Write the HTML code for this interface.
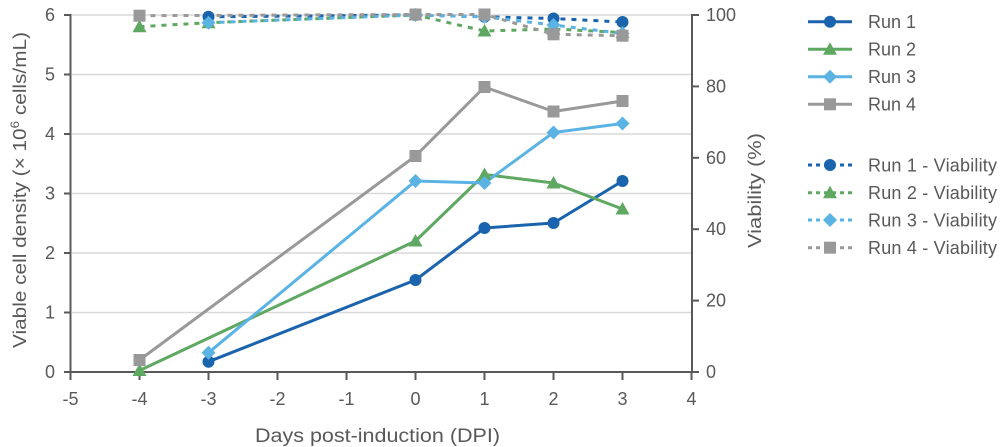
<!DOCTYPE html>
<html><head><meta charset="utf-8"><style>
html,body{margin:0;padding:0;background:#fff;}
svg{display:block;font-family:"Liberation Sans",sans-serif;}
</style></head><body>
<svg width="1000" height="447" viewBox="0 0 1000 447" xmlns="http://www.w3.org/2000/svg">
<defs>
<g id="mc"><circle cx="0" cy="0" r="6"/></g>
<g id="mt"><polygon points="0,-7 7,5.5 -7,5.5"/></g>
<g id="md"><polygon points="0,-7 7,0 0,7 -7,0"/></g>
<g id="ms"><rect x="-6" y="-6" width="12" height="12"/></g>
</defs>
<!-- gridlines -->
<g stroke="#d9d9d9" stroke-width="1.5">
<line x1="72" y1="15" x2="692" y2="15"/>
<line x1="72" y1="74.5" x2="692" y2="74.5"/>
<line x1="72" y1="134" x2="692" y2="134"/>
<line x1="72" y1="193.5" x2="692" y2="193.5"/>
<line x1="72" y1="253" x2="692" y2="253"/>
<line x1="72" y1="312.5" x2="692" y2="312.5"/>
</g>
<!-- axes -->
<g stroke="#595959" stroke-width="2">
<line x1="70.5" y1="14" x2="70.5" y2="373"/>
<line x1="692" y1="14" x2="692" y2="373"/>
<line x1="64" y1="372" x2="699" y2="372"/>
<line x1="64" y1="15" x2="71" y2="15"/>
<line x1="64" y1="74.5" x2="71" y2="74.5"/>
<line x1="64" y1="134" x2="71" y2="134"/>
<line x1="64" y1="193.5" x2="71" y2="193.5"/>
<line x1="64" y1="253" x2="71" y2="253"/>
<line x1="64" y1="312.5" x2="71" y2="312.5"/>
<line x1="692" y1="15" x2="699" y2="15"/>
<line x1="692" y1="86.4" x2="699" y2="86.4"/>
<line x1="692" y1="157.8" x2="699" y2="157.8"/>
<line x1="692" y1="229.2" x2="699" y2="229.2"/>
<line x1="692" y1="300.6" x2="699" y2="300.6"/>
<line x1="70.5" y1="372" x2="70.5" y2="380"/>
<line x1="139.5" y1="372" x2="139.5" y2="380"/>
<line x1="208.5" y1="372" x2="208.5" y2="380"/>
<line x1="277.5" y1="372" x2="277.5" y2="380"/>
<line x1="346.5" y1="372" x2="346.5" y2="380"/>
<line x1="415.5" y1="372" x2="415.5" y2="380"/>
<line x1="484.5" y1="372" x2="484.5" y2="380"/>
<line x1="553.5" y1="372" x2="553.5" y2="380"/>
<line x1="622.5" y1="372" x2="622.5" y2="380"/>
<line x1="691.5" y1="372" x2="691.5" y2="380"/>
</g>
<!-- tick labels -->
<g fill="#595959" font-size="18">
<g text-anchor="end">
<text x="55" y="21">6</text>
<text x="55" y="80.5">5</text>
<text x="55" y="140">4</text>
<text x="55" y="199.5">3</text>
<text x="55" y="259">2</text>
<text x="55" y="318.5">1</text>
<text x="55" y="378">0</text>
</g>
<g text-anchor="start">
<text x="706" y="21">100</text>
<text x="706" y="92.4">80</text>
<text x="706" y="163.8">60</text>
<text x="706" y="235.2">40</text>
<text x="706" y="306.6">20</text>
<text x="706" y="378">0</text>
</g>
<g text-anchor="middle">
<text x="70.5" y="405">-5</text>
<text x="139.5" y="405">-4</text>
<text x="208.5" y="405">-3</text>
<text x="277.5" y="405">-2</text>
<text x="346.5" y="405">-1</text>
<text x="415.5" y="405">0</text>
<text x="484.5" y="405">1</text>
<text x="553.5" y="405">2</text>
<text x="622.5" y="405">3</text>
<text x="691.5" y="405">4</text>
</g>
<text x="255" y="442" font-size="19" textLength="245" lengthAdjust="spacingAndGlyphs">Days post-induction (DPI)</text>
<text transform="translate(26,348) rotate(-90)" font-size="18.5" textLength="316" lengthAdjust="spacingAndGlyphs">Viable cell density (× 10<tspan font-size="12" dy="-7">6</tspan><tspan dy="7"> cells/mL)</tspan></text>
<text transform="translate(761,248) rotate(-90)" font-size="18.5" textLength="115" lengthAdjust="spacingAndGlyphs">Viability (%)</text>
</g>
<!-- viability series (dashed) -->
<g fill="none" stroke-width="3" stroke-dasharray="5 6">
<polyline stroke="#1a63ad" points="208.5,16.8 415.5,15 484.5,16.8 553.5,18.5 622.5,22"/>
<polyline stroke="#5ea862" points="139.5,26.7 208.5,22.7 415.5,15 484.5,31 553.5,29 622.5,32.5"/>
<polyline stroke="#5ab3e3" points="208.5,22.7 415.5,15 484.5,16.8 553.5,25 622.5,33.5"/>
<polyline stroke="#999999" points="139.5,15.7 415.5,14.5 484.5,14.5 553.5,34.3 622.5,35.7"/>
</g>
<g fill="#1a63ad"><use href="#mc" x="208.5" y="16.8"/><use href="#mc" x="415.5" y="15"/><use href="#mc" x="484.5" y="16.8"/><use href="#mc" x="553.5" y="18.5"/><use href="#mc" x="622.5" y="22"/></g>
<g fill="#5ea862"><use href="#mt" x="139.5" y="26.7"/><use href="#mt" x="208.5" y="22.7"/><use href="#mt" x="415.5" y="15"/><use href="#mt" x="484.5" y="31"/><use href="#mt" x="553.5" y="29"/><use href="#mt" x="622.5" y="32.5"/></g>
<g fill="#5ab3e3"><use href="#md" x="208.5" y="22.7"/><use href="#md" x="415.5" y="15"/><use href="#md" x="484.5" y="16.8"/><use href="#md" x="553.5" y="25"/><use href="#md" x="622.5" y="33.5"/></g>
<g fill="#999999"><use href="#ms" x="139.5" y="15.7"/><use href="#ms" x="415.5" y="14.5"/><use href="#ms" x="484.5" y="14.5"/><use href="#ms" x="553.5" y="34.3"/><use href="#ms" x="622.5" y="35.7"/></g>
<!-- VCD series (solid) -->
<g fill="none" stroke-width="3" stroke-linejoin="round">
<polyline stroke="#1a63ad" points="208.5,361.7 415.5,280 484.5,228 553.5,223 622.5,181"/>
<polyline stroke="#5ea862" points="139.5,370.5 415.5,241 484.5,174.5 553.5,183 622.5,209"/>
<polyline stroke="#5ab3e3" points="208.5,352.7 415.5,181 484.5,183 553.5,132.5 622.5,123.5"/>
<polyline stroke="#999999" points="139.5,360 415.5,156 484.5,87 553.5,111.5 622.5,101"/>
</g>
<g fill="#1a63ad"><use href="#mc" x="208.5" y="361.7"/><use href="#mc" x="415.5" y="280"/><use href="#mc" x="484.5" y="228"/><use href="#mc" x="553.5" y="223"/><use href="#mc" x="622.5" y="181"/></g>
<g fill="#5ea862"><use href="#mt" x="139.5" y="370.5"/><use href="#mt" x="415.5" y="241"/><use href="#mt" x="484.5" y="174.5"/><use href="#mt" x="553.5" y="183"/><use href="#mt" x="622.5" y="209"/></g>
<g fill="#5ab3e3"><use href="#md" x="208.5" y="352.7"/><use href="#md" x="415.5" y="181"/><use href="#md" x="484.5" y="183"/><use href="#md" x="553.5" y="132.5"/><use href="#md" x="622.5" y="123.5"/></g>
<g fill="#999999"><use href="#ms" x="139.5" y="360"/><use href="#ms" x="415.5" y="156"/><use href="#ms" x="484.5" y="87"/><use href="#ms" x="553.5" y="111.5"/><use href="#ms" x="622.5" y="101"/></g>
<!-- legend -->
<g stroke-width="3">
<line x1="808" y1="21.7" x2="852" y2="21.7" stroke="#1a63ad"/>
<line x1="808" y1="49.3" x2="852" y2="49.3" stroke="#5ea862"/>
<line x1="808" y1="76.7" x2="852" y2="76.7" stroke="#5ab3e3"/>
<line x1="808" y1="104.3" x2="852" y2="104.3" stroke="#999999"/>
<line x1="808" y1="165" x2="852" y2="165" stroke="#1a63ad" stroke-dasharray="4 4"/>
<line x1="808" y1="192.7" x2="852" y2="192.7" stroke="#5ea862" stroke-dasharray="4 4"/>
<line x1="808" y1="220" x2="852" y2="220" stroke="#5ab3e3" stroke-dasharray="4 4"/>
<line x1="808" y1="247.7" x2="852" y2="247.7" stroke="#999999" stroke-dasharray="4 4"/>
</g>
<use href="#mc" x="830" y="21.7" fill="#1a63ad"/>
<use href="#mt" x="830" y="49.3" fill="#5ea862"/>
<use href="#md" x="830" y="76.7" fill="#5ab3e3"/>
<use href="#ms" x="830" y="104.3" fill="#999999"/>
<use href="#mc" x="830" y="165" fill="#1a63ad"/>
<use href="#mt" x="830" y="192.7" fill="#5ea862"/>
<use href="#md" x="830" y="220" fill="#5ab3e3"/>
<use href="#ms" x="830" y="247.7" fill="#999999"/>
<g fill="#595959" font-size="18">
<text x="868" y="28">Run 1</text>
<text x="868" y="55.6">Run 2</text>
<text x="868" y="83">Run 3</text>
<text x="868" y="110.6">Run 4</text>
<text x="868" y="171.3" textLength="129">Run 1 - Viability</text>
<text x="868" y="199" textLength="129">Run 2 - Viability</text>
<text x="868" y="226.3" textLength="129">Run 3 - Viability</text>
<text x="868" y="254" textLength="129">Run 4 - Viability</text>
</g>
</svg>
</body></html>
